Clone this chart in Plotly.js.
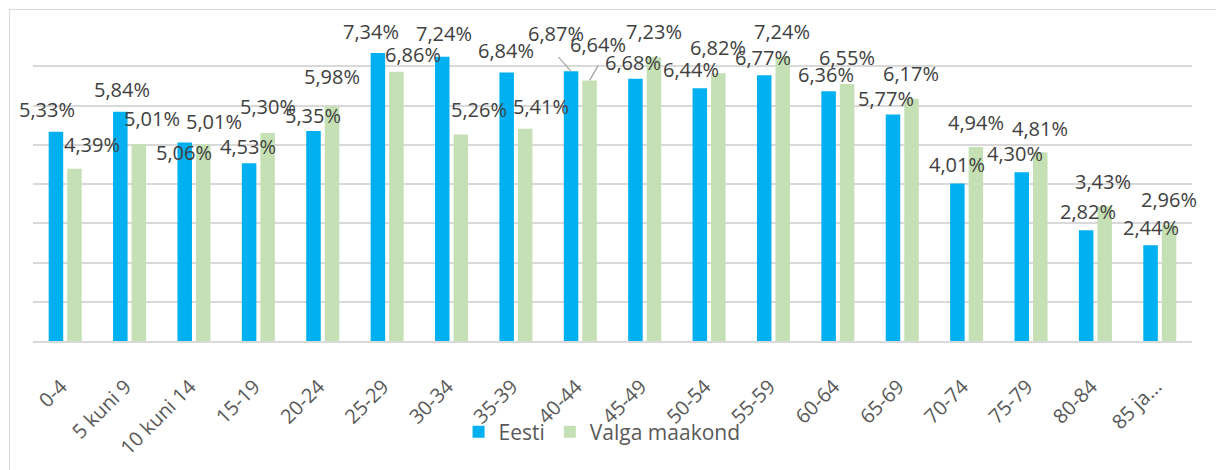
<!DOCTYPE html>
<html>
<head>
<meta charset="utf-8">
<script src="https://cdn.plot.ly/plotly-3.0.1.min.js"></script>
<style>
  html, body { margin: 0; padding: 0; background: #ffffff; }
  #frame { position: absolute; left: 9px; top: 9px; width: 1300px; height: 500px;
           border-left: 1px solid #D9D9D9; border-top: 1px solid #D9D9D9; }
  #chart { position: absolute; left: 0; top: 0; width: 1216px; height: 470px; }
</style>
</head>
<body>
<div id="frame"></div>
<div id="chart"></div>
<script>
// ---- data ----
const categories = ["0-4", "5 kuni 9", "10 kuni 14", "15-19", "20-24", "25-29", "30-34", "35-39",
  "40-44", "45-49", "50-54", "55-59", "60-64", "65-69", "70-74", "75-79", "80-84", "85 ja..."];
const eesti = [5.33, 5.84, 5.06, 4.53, 5.35, 7.34, 7.24, 6.84, 6.87, 6.68, 6.44, 6.77, 6.36, 5.77, 4.01, 4.30, 2.82, 2.44];
const valga = [4.39, 5.01, 5.01, 5.30, 5.98, 6.86, 5.26, 5.41, 6.64, 7.23, 6.82, 7.24, 6.55, 6.17, 4.94, 4.81, 3.43, 2.96];
const seriesNames = ["Eesti", "Valga maakond"];

// ---- label placement: x offset from category centre, y offset from bar top (px) ----
const eestiDx = [-18, -8, -10, -10, -10, -16, -8, -10, -24, -12, -18, -10, -12, -16, -10, -16, -7, -9];
const eestiDy = [22, 22, -10, 17, 16, 21, 23, 22, 38, 16, 19, 18, 17, 16, 19, 19, 19, 18];
const valgaDx = [27, 22, 20, 10, 9, 26, 27, 25, 18, 9, 9, 9, 9, 9, 9, 9, 8, 9];
const valgaDy = [24, 26, 23, 26, 30, 17, 25, 22, 36, 26, 26, 25, 26, 25, 25, 24, 25, 25];
// leader lines (tail offset from bar top, px) for the labels of one category
const leaderIdx = 8;
const eestiLeader = [-14, -16];
const valgaLeader = [10, -17];

const BLUE = "#00B0F0", GREEN = "#C5E0B4";
const FONT = "Open Sans, Noto Sans, sans-serif";
const barOff = 9.25;

function fmt(v) { return v.toFixed(2).replace(".", ",") + "%"; }

const traces = [
  { type: "bar", name: seriesNames[0], x: categories, y: eesti, marker: { color: BLUE }, hoverinfo: "skip" },
  { type: "bar", name: seriesNames[1], x: categories, y: valga, marker: { color: GREEN }, hoverinfo: "skip" }
];

const annotations = [];
function addLabels(vals, dx, dy, sign, leader) {
  vals.forEach((v, i) => {
    annotations.push({ x: categories[i], y: v, xref: "x", yref: "y", text: fmt(v),
      font: { family: FONT, size: 20, color: "#404040" }, xanchor: "center", yanchor: "middle",
      xshift: dx[i], yshift: dy[i], showarrow: false });
    if (i === leaderIdx) {
      annotations.push({ x: categories[i], y: v, xref: "x", yref: "y", text: " ",
        font: { size: 1 }, xshift: sign * barOff, showarrow: true, arrowhead: 0, arrowwidth: 1.3,
        arrowcolor: "#A6A6A6", ax: leader[0], ay: leader[1], standoff: 0, startstandoff: 0 });
    }
  });
}
addLabels(eesti, eestiDx, eestiDy, -1, eestiLeader);
addLabels(valga, valgaDx, valgaDy, 1, valgaLeader);

const layout = {
  width: 1216, height: 470,
  margin: { l: 33, r: 24, t: 27, b: 129 },
  paper_bgcolor: "rgba(0,0,0,0)", plot_bgcolor: "rgba(0,0,0,0)",
  barmode: "group", bargap: 0.425, bargroupgap: 0.216,
  font: { family: FONT, color: "#595959" },
  xaxis: { type: "category", range: [-0.5, categories.length - 0.5], autorange: false,
    tickangle: -45, tickfont: { family: FONT, size: 20, color: "#595959" },
    ticklabelstandoff: 24, ticklabelshift: -4,
    showline: true, linecolor: "#D9D9D9", linewidth: 2, ticks: "", showgrid: false, automargin: false },
  yaxis: { range: [0, 8], autorange: false, dtick: 1, showticklabels: false, showgrid: true, gridcolor: "#D9D9D9",
    gridwidth: 2, zeroline: false, showline: false, ticks: "", automargin: false },
  legend: { orientation: "h", x: 0.491, xanchor: "center", y: -0.29, yanchor: "middle",
    font: { family: FONT, size: 21, color: "#595959" }, itemwidth: 30, bgcolor: "rgba(0,0,0,0)" },
  showlegend: true,
  annotations: annotations
};

Plotly.newPlot("chart", traces, layout, { displayModeBar: false, staticPlot: true });
</script>
</body>
</html>
